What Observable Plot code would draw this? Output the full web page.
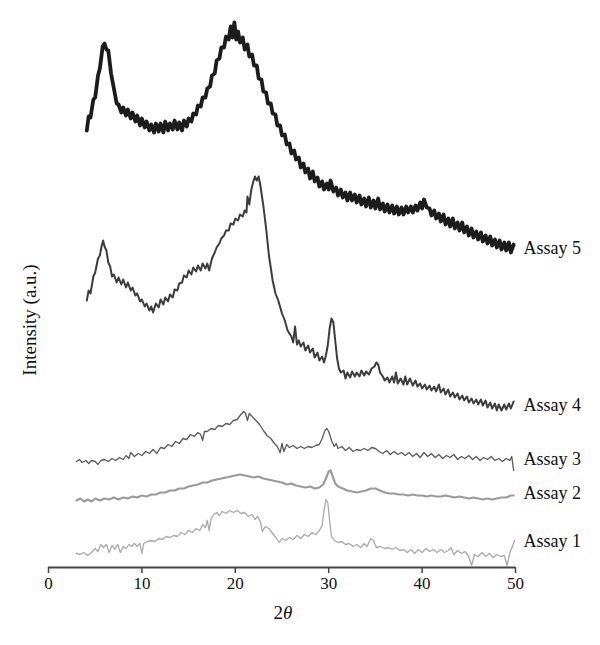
<!DOCTYPE html>
<html>
<head>
<meta charset="utf-8">
<script src="https://cdn.jsdelivr.net/npm/d3@7"></script>
<script src="https://cdn.jsdelivr.net/npm/@observablehq/plot@0.6"></script>
<style>
  html, body { margin: 0; padding: 0; background: #fff; }
  #chart { width: 600px; height: 645px; }
</style>
</head>
<body>
<div id="chart"></div>
<script>
// ---- Data (2θ in degrees, intensity in arbitrary units) ----
const seriesNames = ["Assay 1", "Assay 2", "Assay 3", "Assay 4", "Assay 5"];
const xTicks = [0, 10, 20, 30, 40, 50];
const labelIntensity = [26, 74, 108, 162, 319];

const theta5 = [4.1,4.3,4.5,4.8,5.0,5.3,5.5,5.8,6.0,6.2,6.4,6.7,7.0,7.3,7.5,7.8,8.0,8.3,8.5,8.8,9.0,9.3,9.5,9.8,10.0,10.3,10.5,10.8,11.0,11.3,11.5,11.8,12.0,12.3,12.5,12.8,13.0,13.3,13.5,13.8,14.0,14.3,14.5,14.8,15.0,15.3,15.5,15.8,16.0,16.3,16.5,16.8,17.0,17.3,17.5,17.8,18.0,18.3,18.5,18.8,19.0,19.3,19.5,19.7,19.9,20.1,20.3,20.5,20.8,21.0,21.3,21.5,21.8,22.0,22.3,22.5,22.8,23.0,23.3,23.5,23.8,24.0,24.3,24.5,24.8,25.0,25.3,25.5,25.8,26.0,26.3,26.5,26.8,27.0,27.3,27.5,27.8,28.0,28.3,28.5,28.8,29.0,29.3,29.5,29.8,30.0,30.2,30.5,30.8,31.0,31.3,31.5,31.8,32.0,32.3,32.5,32.8,33.0,33.3,33.5,33.8,34.0,34.3,34.5,34.8,35.0,35.3,35.5,35.8,36.0,36.3,36.5,36.8,37.0,37.3,37.5,37.8,38.0,38.3,38.5,38.8,39.0,39.3,39.5,39.8,40.0,40.2,40.5,40.8,41.0,41.3,41.5,41.8,42.0,42.3,42.5,42.8,43.0,43.3,43.5,43.8,44.0,44.3,44.5,44.8,45.0,45.3,45.5,45.8,46.0,46.3,46.5,46.8,47.0,47.3,47.5,47.8,48.0,48.3,48.5,48.8,49.0,49.3,49.5,49.8];
const int5 = [437,451,450,468,470,492,499,521,524,518,517,494,479,464,463,455,460,452,458,449,455,446,452,442,449,440,446,437,443,435,444,436,444,435,446,437,444,438,447,438,445,437,447,441,449,446,454,453,462,461,470,470,479,481,492,494,507,509,520,520,531,528,541,530,545,528,536,525,530,518,523,511,513,502,502,489,488,476,475,464,464,454,453,442,442,432,433,423,424,414,417,408,410,400,404,395,399,389,396,386,390,381,386,378,384,378,387,376,380,372,378,370,375,367,375,367,373,365,372,363,369,361,370,360,367,359,369,358,364,356,363,355,362,354,361,353,360,353,361,355,361,355,362,357,365,359,368,360,359,352,357,349,354,346,353,343,349,341,349,339,345,337,345,335,341,332,339,330,336,328,335,326,332,324,331,322,328,320,327,318,325,317,325,315,323];

const theta4 = [4.1,4.3,4.5,4.8,5.0,5.3,5.5,5.7,5.85,6.0,6.2,6.4,6.6,6.8,7.0,7.3,7.5,7.8,8.0,8.3,8.5,8.8,9.0,9.3,9.5,9.8,10.0,10.3,10.5,10.8,11.0,11.2,11.5,11.8,12.0,12.3,12.5,12.8,13.0,13.3,13.5,13.8,14.0,14.3,14.5,14.8,15.0,15.3,15.5,15.8,16.0,16.3,16.5,16.8,17.0,17.2,17.5,17.8,18.0,18.3,18.5,18.8,19.0,19.3,19.5,19.8,20.0,20.3,20.5,20.8,21.0,21.2,21.3,21.5,21.7,21.9,22.1,22.3,22.5,22.7,23.0,23.3,23.6,24.0,24.3,24.6,25.0,25.3,25.6,26.0,26.2,26.4,26.6,26.8,27.0,27.3,27.5,27.8,28.0,28.3,28.5,28.8,29.0,29.3,29.5,29.7,29.9,30.1,30.3,30.5,30.7,30.9,31.1,31.3,31.6,31.8,32.0,32.3,32.5,32.8,33.0,33.3,33.5,33.8,34.0,34.3,34.6,34.9,35.1,35.3,35.5,35.8,36.0,36.3,36.5,36.8,37.0,37.2,37.4,37.7,38.0,38.2,38.4,38.7,39.0,39.3,39.5,39.8,40.0,40.3,40.5,40.8,41.0,41.3,41.5,41.8,42.0,42.3,42.5,42.8,43.0,43.3,43.5,43.8,44.0,44.3,44.5,44.8,45.0,45.3,45.5,45.8,46.0,46.3,46.5,46.8,47.0,47.3,47.5,47.8,48.0,48.2,48.5,48.8,49.0,49.3,49.5,49.8];
const int4 = [267,277,274,291,295,309,312,322,327,321,317,305,301,291,293,285,290,283,288,280,285,277,280,272,274,266,268,261,264,257,261,255,264,260,268,263,270,266,273,270,278,277,284,285,292,290,297,293,300,296,302,297,304,299,304,297,309,315,320,324,329,332,337,337,344,343,349,347,353,351,357,355,371,363,377,385,391,387,391,381,362,339,312,287,274,267,254,247,237,231,225,241,223,227,221,225,217,222,215,219,210,215,207,211,205,212,222,239,249,245,227,209,199,195,197,189,195,190,196,191,195,191,197,192,196,193,199,201,205,203,195,191,187,190,185,191,185,195,184,189,183,191,183,189,182,187,181,184,179,183,178,182,177,181,176,183,175,179,173,178,171,175,170,174,168,172,167,171,165,169,164,168,163,168,162,167,160,165,159,164,157,163,157,163,158,164,159,166];

const theta3 = [3.0,3.3,3.6,4.0,4.3,4.6,5.0,5.3,5.6,6.0,6.4,6.8,7.2,7.6,8.0,8.3,8.6,8.8,9.2,9.6,10.0,10.4,10.8,11.2,11.6,12.0,12.4,12.8,13.2,13.6,14.0,14.4,14.8,15.2,15.6,16.0,16.3,16.5,16.7,17.0,17.4,17.8,18.2,18.6,19.0,19.4,19.8,20.2,20.6,20.9,21.1,21.3,21.5,21.8,22.2,22.6,23.0,23.4,23.8,24.2,24.5,24.8,25.0,25.2,25.5,25.8,26.2,26.6,27.0,27.4,27.8,28.2,28.6,29.0,29.3,29.6,29.8,30.0,30.3,30.6,30.8,31.0,31.4,31.8,32.2,32.6,33.0,33.4,33.8,34.2,34.6,35.0,35.4,35.8,36.2,36.6,37.0,37.4,37.8,38.2,38.6,39.0,39.4,39.8,40.2,40.6,41.0,41.4,41.8,42.2,42.6,43.0,43.4,43.8,44.2,44.6,45.0,45.4,45.8,46.2,46.6,47.0,47.4,47.8,48.2,48.6,49.0,49.4,49.6,49.8];
const int3 = [106,108,105,107,104,107,106,103,107,108,106,109,107,110,108,112,109,115,111,114,112,116,114,118,114,120,119,123,121,126,124,129,128,133,131,135,133,127,136,136,139,138,142,141,144,143,147,148,153,156,154,147,154,151,147,143,137,132,129,124,121,115,124,116,123,120,122,119,121,119,121,120,122,123,129,137,139,136,127,121,124,119,121,117,120,116,118,117,119,117,120,119,116,114,117,113,116,113,115,112,115,111,114,110,115,111,114,110,113,109,112,110,113,108,111,109,112,108,111,107,110,108,111,107,109,106,109,107,111,97];

const theta2 = [3.0,3.4,3.8,4.2,4.6,5.0,5.5,6.0,6.5,7.0,7.5,8.0,8.5,9.0,9.5,10.0,10.5,11.0,11.5,12.0,12.5,13.0,13.5,14.0,14.5,15.0,15.5,16.0,16.5,17.0,17.5,18.0,18.5,19.0,19.5,20.0,20.5,21.0,21.5,22.0,22.5,23.0,23.5,24.0,24.5,25.0,25.5,26.0,26.5,27.0,27.5,28.0,28.5,29.0,29.4,29.7,30.0,30.2,30.4,30.7,31.0,31.5,32.0,32.5,33.0,33.5,34.0,34.5,35.0,35.5,36.0,36.5,37.0,37.5,38.0,38.5,39.0,39.5,40.0,40.5,41.0,41.5,42.0,42.5,43.0,43.5,44.0,44.5,45.0,45.5,46.0,46.5,47.0,47.5,48.0,48.5,49.0,49.5,49.8];
const int2 = [67,69,66,68,66,69,67,69,68,70,68,70,69,71,70,72,71,73,73,75,75,77,77,79,79,81,82,83,85,85,87,88,89,90,91,92,93,92,91,90,91,89,88,87,86,85,83,84,82,81,80,81,79,80,83,89,96,97,92,84,81,79,77,76,75,76,77,79,79,77,75,74,74,73,73,72,73,72,72,71,72,71,71,72,71,70,71,70,69,70,69,68,69,68,69,70,70,72,72];

const theta1 = [3.0,3.4,3.8,4.2,4.6,5.0,5.3,5.6,5.9,6.2,6.5,6.8,7.1,7.4,7.7,8.0,8.3,8.6,8.9,9.2,9.5,9.8,10.0,10.2,10.6,11.0,11.4,11.8,12.2,12.6,13.0,13.4,13.8,14.2,14.6,15.0,15.4,15.8,16.2,16.5,16.8,17.0,17.2,17.4,17.7,18.0,18.3,18.6,19.0,19.4,19.8,20.2,20.6,21.0,21.4,21.8,22.1,22.4,22.7,22.9,23.2,23.6,24.0,24.4,24.7,25.0,25.4,25.8,26.2,26.6,27.0,27.4,27.8,28.2,28.6,29.0,29.3,29.5,29.7,29.9,30.1,30.3,30.6,31.0,31.4,31.8,32.2,32.6,33.0,33.4,33.8,34.1,34.5,34.8,35.1,35.5,36.0,36.4,36.8,37.2,37.6,38.0,38.4,38.8,39.2,39.6,40.0,40.4,40.8,41.2,41.6,42.0,42.4,42.8,43.1,43.4,43.8,44.2,44.6,45.0,45.3,45.6,46.0,46.4,46.8,47.2,47.6,48.0,48.4,48.8,49.1,49.4,49.7,49.9];
const int1 = [14,13,15,12,15,19,16,23,20,23,15,22,18,23,15,21,19,23,21,24,21,24,14,24,26,27,26,29,28,31,30,32,31,35,33,37,35,39,37,43,40,47,37,49,53,55,52,56,54,57,55,57,54,55,51,53,48,51,45,36,41,39,34,29,25,29,27,30,28,32,29,33,31,35,33,37,42,57,68,65,47,31,27,25,26,23,24,21,23,20,24,21,29,27,20,21,19,20,18,20,17,18,15,18,14,18,15,19,16,18,15,18,15,17,20,13,17,14,16,11,2,13,11,15,11,14,10,13,11,12,2,15,22,27];

// ---- Build table for Plot ----
const allTheta = [theta1, theta2, theta3, theta4, theta5];
const allInt = [int1, int2, int3, int4, int5];
const rows = [];
seriesNames.forEach((name, i) => {
  allTheta[i].forEach((t, j) => rows.push({series: name, theta: t, intensity: allInt[i][j]}));
});
const labels = seriesNames.map((name, i) => ({series: name, theta: 50, intensity: labelIntensity[i]}));

const styles = {
  "Assay 1": {stroke: "#a9a9a9", width: 1.3},
  "Assay 2": {stroke: "#9a9a9a", width: 2.2},
  "Assay 3": {stroke: "#5a5a5a", width: 1.3},
  "Assay 4": {stroke: "#3c3c3c", width: 2.0},
  "Assay 5": {stroke: "#1c1c1c", width: 3.8}
};

const lineMarks = seriesNames.map(name =>
  Plot.line(rows.filter(d => d.series === name), {
    x: "theta", y: "intensity",
    stroke: styles[name].stroke, strokeWidth: styles[name].width,
    strokeLinejoin: "round"
  })
);

const svg = Plot.plot({
  width: 600,
  height: 645,
  marginLeft: 48,
  marginRight: 85,
  marginTop: 0,
  marginBottom: 78,
  style: {fontFamily: "'Liberation Serif', 'DejaVu Serif', serif", fontSize: "17px", background: "#fff", color: "#111"},
  x: {domain: [0, 50]},
  y: {domain: [0, 567], axis: null},
  marks: [
    Plot.ruleY([0], {stroke: "#444", strokeWidth: 2}),
    Plot.axisX({ticks: xTicks, tickSize: 6, tickPadding: 3, tickFormat: d => String(d), label: null, stroke: "#444", strokeWidth: 1.5, fill: "#111", fontSize: 17}),
    ...lineMarks,
    Plot.text(labels, {x: "theta", y: "intensity", text: "series", textAnchor: "start", dx: 8, fontSize: 18, fill: "#111"})
  ]
});

// axis titles
const s = d3.select(svg);
const xt = s.append("text")
  .attr("x", 283).attr("y", 619)
  .attr("text-anchor", "middle")
  .attr("font-size", 19)
  .attr("fill", "#111");
xt.append("tspan").text("2");
xt.append("tspan").attr("font-style", "italic").text("θ");

s.append("text")
  .attr("transform", "translate(36,320) rotate(-90)")
  .attr("text-anchor", "middle")
  .attr("font-size", 19)
  .attr("fill", "#111")
  .text("Intensity (a.u.)");

document.getElementById("chart").appendChild(svg);
</script>
</body>
</html>
